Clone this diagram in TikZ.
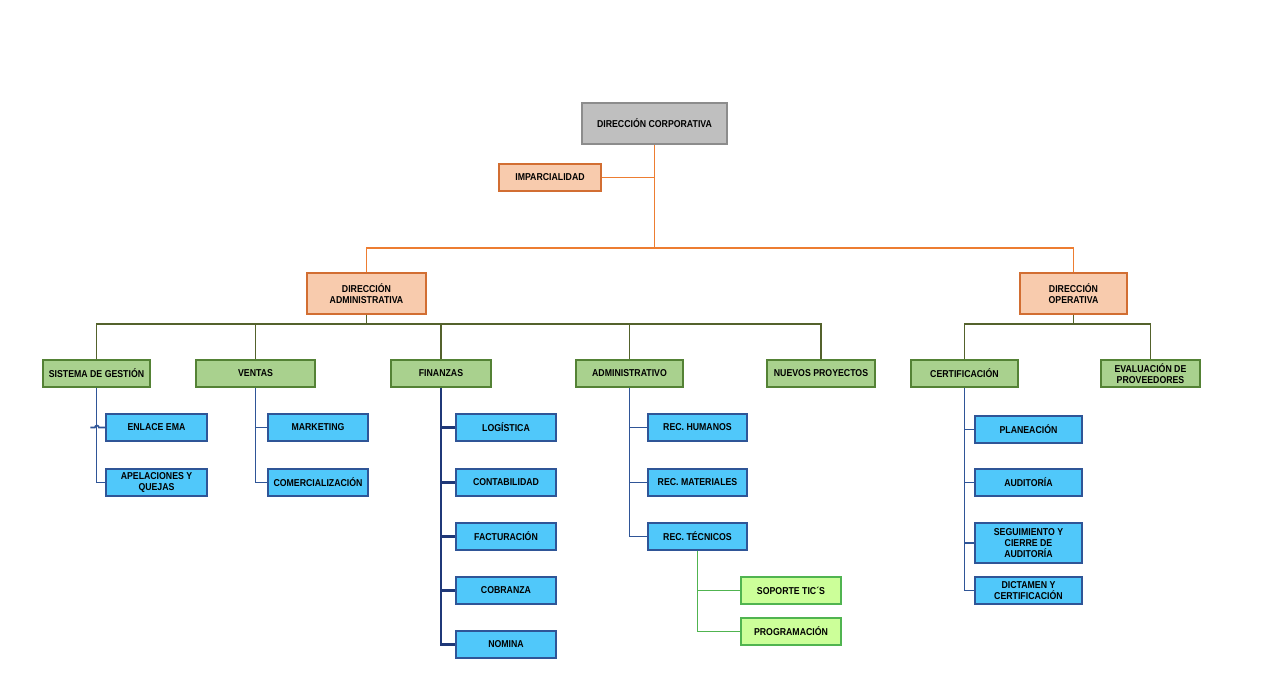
\documentclass[tikz,border=0pt]{standalone}
\usepackage{fontspec}
\setmainfont{Liberation Sans}[FakeStretch=0.875]
\usetikzlibrary{shadows}
\definecolor{grayfill}{RGB}{191,191,191}
\definecolor{graybd}{RGB}{140,140,140}
\definecolor{peachfill}{RGB}{248,203,173}
\definecolor{peachbd}{RGB}{210,110,50}
\definecolor{orangeln}{RGB}{237,125,49}
\definecolor{olive}{RGB}{84,98,44}
\definecolor{greenfill}{RGB}{169,209,142}
\definecolor{greenbd}{RGB}{84,130,53}
\definecolor{bluefill}{RGB}{80,200,250}
\definecolor{bluebd}{RGB}{47,85,151}
\definecolor{navy}{RGB}{31,56,120}
\definecolor{lgfill}{RGB}{204,255,153}
\definecolor{lgbd}{RGB}{80,180,80}
\tikzset{
  box/.style={draw, line width=1.2pt, inner sep=0pt, align=center,
    font=\fontsize{10}{11}\selectfont\bfseries,
    drop shadow={opacity=0.25, shadow xshift=1.2pt, shadow yshift=-1.2pt}},
  graybox/.style={box, fill=grayfill, draw=graybd},
  peachbox/.style={box, fill=peachfill, draw=peachbd},
  greenbox/.style={box, fill=greenfill, draw=greenbd},
  bluebox/.style={box, fill=bluefill, draw=bluebd},
  lgbox/.style={box, fill=lgfill, draw=lgbd},
  oline/.style={draw=orangeln, line width=1.6pt},
  olline/.style={draw=olive, line width=1.5pt},
  bline/.style={draw=bluebd, line width=1.6pt},
  nline/.style={draw=navy, line width=2.2pt},
  gline/.style={draw=lgbd, line width=1.6pt},
}
\begin{document}
\begin{tikzpicture}[x=1pt,y=-1pt]
\path[use as bounding box] (0,0) rectangle (1268,686);
% top
\node[graybox, minimum width=145pt, minimum height=41pt] (corp) at (654.5,123.5) {DIRECCIÓN CORPORATIVA};
\node[peachbox, minimum width=102pt, minimum height=27pt] (impar) at (550,177.5) {IMPARCIALIDAD};
\node[peachbox, minimum width=119pt, minimum height=41pt] (dadm) at (366.5,293.5) {DIRECCIÓN\\ADMINISTRATIVA};
\node[peachbox, minimum width=107pt, minimum height=41pt] (dope) at (1073.5,293.5) {DIRECCIÓN\\OPERATIVA};
% green level
\node[greenbox, minimum width=107pt, minimum height=27pt] (sis) at (96.5,373.5) {SISTEMA DE GESTIÓN};
\node[greenbox, minimum width=119pt, minimum height=27pt] (ven) at (255.5,373.5) {VENTAS};
\node[greenbox, minimum width=100pt, minimum height=27pt] (fin) at (441,373.5) {FINANZAS};
\node[greenbox, minimum width=107pt, minimum height=27pt] (adm) at (629.5,373.5) {ADMINISTRATIVO};
\node[greenbox, minimum width=108pt, minimum height=27pt] (nue) at (821,373.5) {NUEVOS PROYECTOS};
\node[greenbox, minimum width=107pt, minimum height=27pt] (cert) at (964.5,373.5) {CERTIFICACIÓN};
\node[greenbox, minimum width=99pt, minimum height=27pt] (eval) at (1150.5,373.5) {EVALUACIÓN DE\\PROVEEDORES};
% blue boxes
\node[bluebox, minimum width=101pt, minimum height=27pt] (enl) at (156.5,427.5) {ENLACE EMA};
\node[bluebox, minimum width=101pt, minimum height=27pt] (apel) at (156.5,482.5) {APELACIONES Y\\QUEJAS};
\node[bluebox, minimum width=100pt, minimum height=27pt] (mkt) at (318,427.5) {MARKETING};
\node[bluebox, minimum width=100pt, minimum height=27pt] (com) at (318,482.5) {COMERCIALIZACIÓN};
\node[bluebox, minimum width=100pt, minimum height=27pt] (log) at (506,427.5) {LOGÍSTICA};
\node[bluebox, minimum width=100pt, minimum height=27pt] (cont) at (506,482.5) {CONTABILIDAD};
\node[bluebox, minimum width=100pt, minimum height=27pt] (fact) at (506,536.5) {FACTURACIÓN};
\node[bluebox, minimum width=100pt, minimum height=27pt] (cob) at (506,590.5) {COBRANZA};
\node[bluebox, minimum width=100pt, minimum height=27pt] (nom) at (506,644.5) {NOMINA};
\node[bluebox, minimum width=99pt, minimum height=27pt] (rh) at (697.5,427.5) {REC. HUMANOS};
\node[bluebox, minimum width=99pt, minimum height=27pt] (rm) at (697.5,482.5) {REC. MATERIALES};
\node[bluebox, minimum width=99pt, minimum height=27pt] (rt) at (697.5,536.5) {REC. TÉCNICOS};
\node[lgbox, minimum width=100pt, minimum height=27pt] (sop) at (791,590.5) {SOPORTE TIC´S};
\node[lgbox, minimum width=100pt, minimum height=27pt] (prog) at (791,631.5) {PROGRAMACIÓN};
\node[bluebox, minimum width=107pt, minimum height=27pt] (plan) at (1028.5,429.5) {PLANEACIÓN};
\node[bluebox, minimum width=107pt, minimum height=27pt] (aud) at (1028.5,482.5) {AUDITORÍA};
\node[bluebox, minimum width=107pt, minimum height=40pt] (seg) at (1028.5,543) {SEGUIMIENTO Y\\CIERRE DE\\AUDITORÍA};
\node[bluebox, minimum width=107pt, minimum height=27pt] (dict) at (1028.5,590.5) {DICTAMEN Y\\CERTIFICACIÓN};
% orange connectors
\coordinate (o1) at (654.5,248);
\draw[oline] (corp.south) -- (o1);
\draw[oline] (impar.east) -- (impar.east -| corp.south);
\draw[oline] (dadm.north) |- (o1) -| (dope.north);
% olive connectors (administrativa)
\coordinate (ya) at (0,324);
\draw[olline] (dadm.south) -- (dadm.south |- ya);
\draw[olline] (sis.north) |- (ya -| nue.north) -- (nue.north);
\draw[olline] (ven.north) -- (ven.north |- ya);
\draw[olline] (fin.north) -- (fin.north |- ya);
\draw[olline] (adm.north) -- (adm.north |- ya);
% olive connectors (operativa)
\draw[olline] (dope.south) -- (dope.south |- ya);
\draw[olline] (cert.north) |- (ya -| eval.north) -- (eval.north);
% sistema
\draw[bline] (sis.south) |- (apel.west);
\draw[bline] ([xshift=-15pt]enl.west) -- ++(4.5,0) arc (180:360:2) -- (enl.west);
% ventas
\draw[bline] (ven.south) |- (com.west);
\draw[bline] (ven.south |- mkt.west) -- (mkt.west);
% finanzas
\draw[nline] (fin.south) |- (nom.west);
\draw[nline] (fin.south |- log.west) -- (log.west);
\draw[nline] (fin.south |- cont.west) -- (cont.west);
\draw[nline] (fin.south |- fact.west) -- (fact.west);
\draw[nline] (fin.south |- cob.west) -- (cob.west);
% administrativo
\draw[bline] (adm.south) |- (rt.west);
\draw[bline] (adm.south |- rh.west) -- (rh.west);
\draw[bline] (adm.south |- rm.west) -- (rm.west);
% rec tecnicos
\draw[gline] (rt.south) |- (prog.west);
\draw[gline] (rt.south |- sop.west) -- (sop.west);
% certificacion
\draw[bline] (cert.south) |- (dict.west);
\draw[bline] (cert.south |- plan.west) -- (plan.west);
\draw[bline] (cert.south |- aud.west) -- (aud.west);
\draw[bline] (cert.south |- seg.west) -- (seg.west);
\end{tikzpicture}
\end{document}
